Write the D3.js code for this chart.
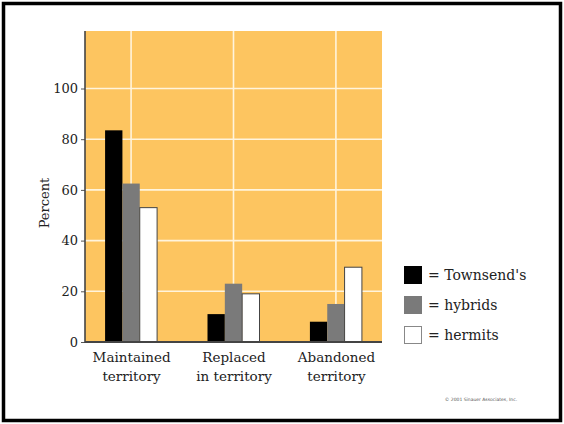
<!DOCTYPE html>
<html>
<head>
<meta charset="utf-8">
<script src="https://cdn.jsdelivr.net/npm/d3@7"></script>
<style>
html,body{margin:0;padding:0;background:#fff;}
svg{display:block;}
</style>
</head>
<body>
<svg id="chart" width="564" height="424" font-family="DejaVu Serif"></svg>
<script>
const categories = [["Maintained","territory"],["Replaced","in territory"],["Abandoned","territory"]];
const seriesNames = ["Townsend's","hybrids","hermits"];
const townsends = [83.5, 11, 8];
const hybrids = [62.5, 23, 15];
const hermits = [53, 19, 29.5];
const yTicks = [0, 20, 40, 60, 80, 100];
const yTitle = "Percent";
const credit = "© 2001 Sinauer Associates, Inc.";

(function () {
const values = [townsends, hybrids, hermits];
const fills = ["#000000", "#7a7a7a", "#ffffff"];
const SERIF = "DejaVu Serif";

const svg = d3.select("#chart");
const W = 564, H = 424;
const pL = 85, pR = 382, pB = 342, pT = 31;

svg.append("rect").attr("x", 3.5).attr("y", 3.5).attr("width", W - 7).attr("height", H - 7)
  .attr("fill", "#fff").attr("stroke", "#000").attr("stroke-width", 3.5);

const y = d3.scaleLinear().domain([0, 100]).range([pB, 88.5]);
const catKeys = categories.map(c => c.join(" "));
const x = d3.scalePoint().domain(catKeys).range([pL, pR]).padding(0.45);
const xs = d3.scaleBand().domain(seriesNames).range([-26, 26]).padding(0);

svg.append("rect").attr("x", pL).attr("y", pT).attr("width", pR - pL).attr("height", pB - pT)
  .attr("fill", "#fdc560");

svg.append("g").selectAll("line").data(yTicks.filter(d => d > 0)).join("line")
  .attr("x1", pL).attr("x2", pR).attr("y1", d => y(d)).attr("y2", d => y(d))
  .attr("stroke", "#fff4dc").attr("stroke-width", 1.6);
svg.append("g").selectAll("line").data(catKeys).join("line")
  .attr("x1", d => x(d)).attr("x2", d => x(d)).attr("y1", pT).attr("y2", pB)
  .attr("stroke", "#fff4dc").attr("stroke-width", 1.6);

seriesNames.forEach((s, si) => {
  svg.append("g").selectAll("rect").data(values[si]).join("rect")
    .attr("x", (d, i) => x(catKeys[i]) + xs(s))
    .attr("y", d => y(d))
    .attr("width", xs.bandwidth())
    .attr("height", d => pB - y(d))
    .attr("fill", fills[si])
    .attr("stroke", si === 2 ? "#444" : "none")
    .attr("stroke-width", 1);
});

const yAxis = d3.axisLeft(y).tickValues(yTicks).tickSize(4).tickPadding(3).tickFormat(d3.format("d"));
const gy = svg.append("g").attr("transform", `translate(${pL},0)`).call(yAxis)
  .attr("font-family", SERIF).attr("font-size", 13);
gy.select(".domain").remove();
gy.selectAll(".tick line").attr("stroke", "#555");
gy.selectAll(".tick text").attr("fill", "#222");
svg.append("line").attr("x1", pL).attr("x2", pL).attr("y1", pT).attr("y2", pB + 1)
  .attr("stroke", "#444").attr("stroke-width", 1.6);

const xAxis = d3.axisBottom(x).tickSize(0).tickFormat(() => "");
const gx = svg.append("g").attr("transform", `translate(0,${pB})`).call(xAxis)
  .attr("font-family", SERIF).attr("font-size", 13.5);
gx.select(".domain").remove();
svg.append("line").attr("x1", pL).attr("x2", pR).attr("y1", pB).attr("y2", pB)
  .attr("stroke", "#444").attr("stroke-width", 1.8);
gx.selectAll(".tick").each(function(d, i) {
  const t = d3.select(this).select("text").text(null).attr("y", 0).attr("dy", null).attr("fill", "#222");
  categories[i].forEach((line, li) => {
    t.append("tspan").attr("x", 0).attr("y", 20 + li * 19).text(line);
  });
});

svg.append("text").attr("transform", "translate(49,203) rotate(-90)")
  .attr("text-anchor", "middle").attr("font-family", SERIF).attr("font-size", 13).attr("fill", "#222").text(yTitle);

const lg = svg.append("g").attr("transform", "translate(404,266)");
seriesNames.forEach((s, i) => {
  lg.append("rect").attr("x", 0.5).attr("y", i * 30 + 0.5).attr("width", 17).attr("height", 17)
    .attr("fill", fills[i]).attr("stroke", i === 2 ? "#888" : fills[i]).attr("stroke-width", 1);
  lg.append("text").attr("x", 24).attr("y", i * 30 + 14).attr("font-family", SERIF)
    .attr("font-size", 14).attr("fill", "#222").text("= " + s);
});

svg.append("text").attr("x", 481).attr("y", 401).attr("text-anchor", "middle")
  .attr("font-size", 4.5).attr("font-family", "DejaVu Sans").attr("fill", "#555").text(credit);
})();
</script>
</body>
</html>
